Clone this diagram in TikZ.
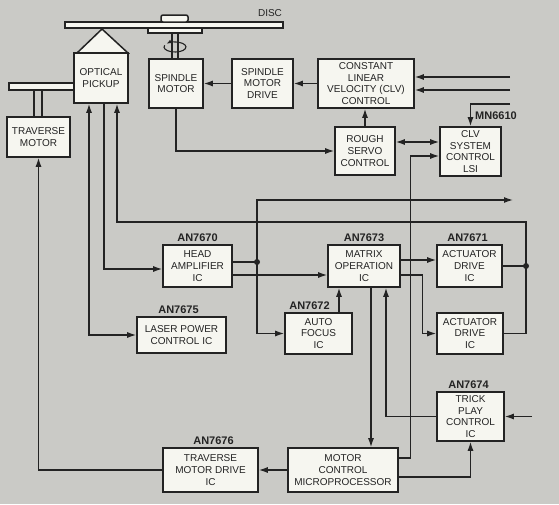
\documentclass[tikz,border=0pt]{standalone}
\usepackage{fontspec}
\setmainfont{Liberation Sans}
\usetikzlibrary{arrows.meta, positioning}
\definecolor{paper}{RGB}{202,202,198}
\definecolor{boxfill}{RGB}{246,246,240}
\definecolor{ink}{RGB}{35,35,35}
\tikzset{
    box/.style={
        draw=ink,
        fill=boxfill,
        line width=1.6pt,
        align=center,
        inner sep=1pt,
        text=ink,
        font=\fontsize{10}{11.7}\selectfont
    },
    partno/.style={font=\fontsize{11}{12}\selectfont\bfseries, text=ink, inner sep=1pt},
    line/.style={-{Latex[length=9pt,width=6pt]}, line width=1.3pt, draw=ink},
    dline/.style={{Latex[length=9pt,width=6pt]}-{Latex[length=9pt,width=6pt]}, line width=1.3pt, draw=ink},
    plain/.style={line width=1.3pt, draw=ink},
    mech/.style={draw=ink, fill=boxfill, line width=1.5pt},
    dot/.style={circle, fill=ink, inner sep=0pt, minimum size=6pt}
}

\begin{document}
\begin{tikzpicture}[x=1pt, y=-1pt]
\useasboundingbox (0,0) rectangle (559,504);
\fill[paper] (0,0) rectangle (559,504);

\draw[mech] (65,22) rectangle (283,28);
\draw[mech, rounded corners=2pt] (161,15) rectangle (188,22);
\draw[mech] (148,28) rectangle (202,33);
\draw[plain] (172,33) -- (172,59) (178,33) -- (178,59);
\draw[-{Latex[length=5pt,width=4pt]}, line width=1.1pt, draw=ink] (175,47) ++(200:11 and 5) arc (200:-140:11 and 5);
\node[text=ink, font=\fontsize{10}{11}\selectfont, inner sep=0pt] (disc) at (270,13) {DISC};
\draw[mech] (77,53) -- (102,29) -- (128,53) -- cycle;
\draw[mech] (9,83) rectangle (74,90);
\draw[plain] (34,90) -- (34,117) (42,90) -- (42,117);

\node[box, minimum width=54pt, minimum height=50pt] (pickup) at (101,78) {OPTICAL\\PICKUP};
\node[box, minimum width=63pt, minimum height=40pt] (travmotor) at (38.5,137) {TRAVERSE\\MOTOR};
\node[box, minimum width=54pt, minimum height=49pt] (spmotor) at (176,83.5) {SPINDLE\\MOTOR};
\node[box, minimum width=61pt, minimum height=49pt] (spdrive) at (262.5,83.5) {SPINDLE\\MOTOR\\DRIVE};
\node[box, minimum width=96pt, minimum height=49pt] (clv) at (366,83.5) {CONSTANT\\LINEAR\\VELOCITY (CLV)\\CONTROL};
\node[box, minimum width=60pt, minimum height=48pt] (rough) at (365,151) {ROUGH\\SERVO\\CONTROL};
\node[box, minimum width=61pt, minimum height=49pt] (lsi) at (470.5,151.5) {CLV\\SYSTEM\\CONTROL\\LSI};
\node[box, minimum width=69pt, minimum height=42pt] (headamp) at (197.5,266) {HEAD\\AMPLIFIER\\IC};
\node[box, minimum width=89pt, minimum height=36pt] (laser) at (181.5,335) {LASER POWER\\CONTROL IC};
\node[box, minimum width=72pt, minimum height=42pt] (matrix) at (364,266) {MATRIX\\OPERATION\\IC};
\node[box, minimum width=65pt, minimum height=42pt] (act1) at (469.5,266) {ACTUATOR\\DRIVE\\IC};
\node[box, minimum width=66pt, minimum height=41pt] (act2) at (470,333.5) {ACTUATOR\\DRIVE\\IC};
\node[box, minimum width=67pt, minimum height=41pt] (autofocus) at (318.5,333.5) {AUTO\\FOCUS\\IC};
\node[box, minimum width=67pt, minimum height=49pt] (trick) at (470.5,416.5) {TRICK\\PLAY\\CONTROL\\IC};
\node[box, minimum width=110pt, minimum height=44pt] (motorctl) at (343,470) {MOTOR\\CONTROL\\MICROPROCESSOR};
\node[box, minimum width=95pt, minimum height=44pt] (travdrive) at (210.5,470) {TRAVERSE\\MOTOR DRIVE\\IC};

\node[partno, above=1pt of headamp] (anheadamp) {AN7670};
\node[partno, above=1pt of laser, xshift=-3pt] (anlaser) {AN7675};
\node[partno, above=1pt of matrix] (anmatrix) {AN7673};
\node[partno, above=1pt of act1, xshift=-2pt] (anact) {AN7671};
\node[partno, above=1pt of autofocus, xshift=-9pt] (anfocus) {AN7672};
\node[partno, above=1pt of trick, xshift=-2pt] (antrick) {AN7674};
\node[partno, above=1pt of travdrive, xshift=3pt] (antravdrive) {AN7676};
\node[partno, anchor=west] (anlsi) at (474,116) {MN6610};

\coordinate (clvin1) at (510,77);
\coordinate (clvin2) at (510,90);
\coordinate (lsiin) at (510,104);
\coordinate (trackout) at (513,200);
\coordinate (trickin) at (532,416.5);
\coordinate (fb) at (526,222);
\coordinate (split) at (257,262);

\draw[line] (spdrive) -- (spmotor);
\draw[line] (clv) -- (spdrive);
\draw[line] (clvin1) -- (clvin1 -| clv.east);
\draw[line] (clvin2) -- (clvin2 -| clv.east);
\draw[line] (rough.north) -- (rough.north |- clv.south);
\draw[line] (spmotor.south) |- (rough.west);
\draw[dline] ([yshift=9pt]rough.east) -- ([yshift=9pt]rough.east -| lsi.west);
\draw[line] (lsiin) -| (lsi.north);
\draw[line] ([yshift=12pt]motorctl.east) -- ++(12,0) |- ([yshift=-4.5pt]lsi.west);

\draw[dline] (laser.west) -| ([xshift=-12pt]pickup.south);
\draw[line] ([xshift=3pt]pickup.south) |- ([yshift=-3pt]headamp.west);
\draw[line] (act2.east) -| (fb) -| ([xshift=16pt]pickup.south);
\draw[plain] (act1.east) -- (act1.east -| fb) node[dot] (jact) {};

\draw[plain] ([yshift=4pt]headamp.east) -- (split) node[dot] (jhead) {};
\draw[line] ([yshift=-9pt]headamp.east) -- ([yshift=-9pt]headamp.east -| matrix.west);
\draw[line] (split) |- (trackout);
\draw[line] (split) |- (autofocus.west);
\draw[line] ([xshift=20.5pt]autofocus.north) -- ([xshift=20.5pt]autofocus.north |- matrix.south);

\draw[line] ([yshift=6pt]matrix.east) -- ([yshift=6pt]matrix.east -| act1.west);
\draw[line] ([yshift=-9pt]matrix.east) -- ++(22,0) |- (act2.west);
\draw[line] ([xshift=7pt]matrix.south) -- ([xshift=7pt]matrix.south |- motorctl.north);
\draw[line] (trick.west) -| ([xshift=22pt]matrix.south);
\draw[line] (trickin) -- (trick.east);
\draw[line] ([yshift=-7pt]motorctl.east) -| (trick.south);
\draw[line] (motorctl) -- (travdrive);
\draw[line] (travdrive.west) -| (travmotor.south);
\end{tikzpicture}
\end{document}
